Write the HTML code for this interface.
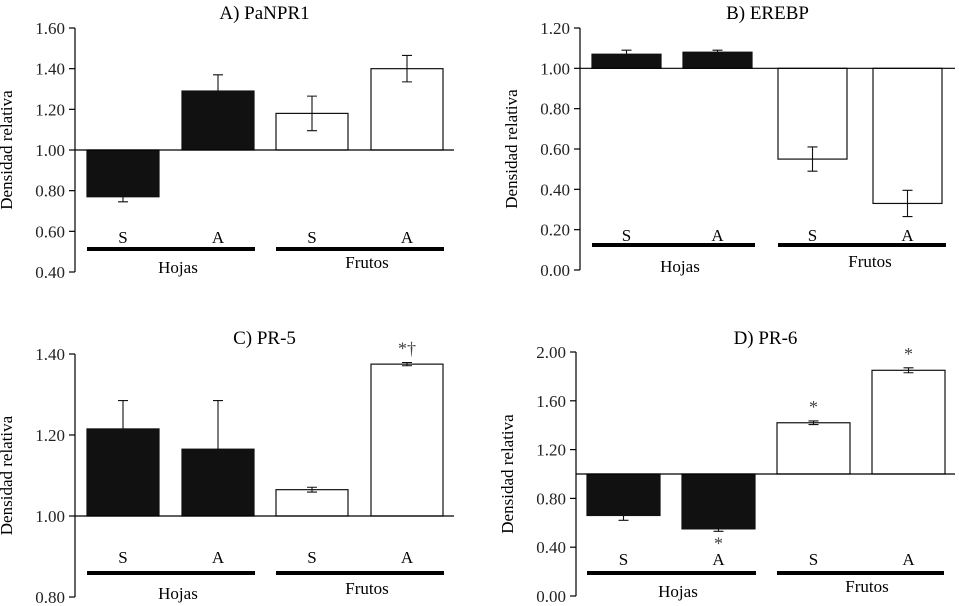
<!DOCTYPE html>
<html><head><meta charset="utf-8"><style>
body{margin:0;background:#fff}
svg{display:block;font-family:"Liberation Serif",serif}
</style></head><body>
<svg id="chart" width="959" height="606" viewBox="0 0 959 606"></svg>
<script>
const categories = ["S","A","S","A"];
const groups = ["Hojas","Frutos"];
const titles = ["A) PaNPR1","B) EREBP","C) PR-5","D) PR-6"];
const valuesA = [0.77,1.29,1.18,1.40];
const errorsA = [0.025,0.08,0.085,0.065];
const valuesB = [1.07,1.08,0.55,0.33];
const errorsB = [0.02,0.01,0.06,0.065];
const valuesC = [1.215,1.165,1.065,1.375];
const errorsC = [0.07,0.12,0.006,0.004];
const valuesD = [0.66,0.55,1.42,1.85];
const errorsD = [0.04,0.02,0.015,0.02];
const marksC = ["","","","*†"];
const marksD = ["","*","*","*"];
const ticksA = ["1.60","1.40","1.20","1.00","0.80","0.60","0.40"];
const ticksB = ["1.20","1.00","0.80","0.60","0.40","0.20","0.00"];
const ticksC = ["1.40","1.20","1.00","0.80"];
const ticksD = ["2.00","1.60","1.20","0.80","0.40","0.00"];

const NS="http://www.w3.org/2000/svg";
const svg=document.getElementById('chart');
function mk(tag,attrs,parent,text){const e=document.createElementNS(NS,tag);for(const k in attrs)e.setAttribute(k,attrs[k]);if(text!==undefined)e.textContent=text;parent.appendChild(e);return e;}

const panels=[
 {t:0,vals:valuesA,errs:errorsA,ticks:ticksA,marks:null,ax:75,top:28,bot:272,max:1.6,min:0.4,bars:[87,182,276,371],bw:72,zEnd:454,labY:243,lineY:249,hY:273,fY:268,tY:19,hX:178,fX:367,mline:[87,255,276,444]},
 {t:1,vals:valuesB,errs:errorsB,ticks:ticksB,marks:null,ax:580,top:28,bot:270,max:1.2,min:0,bars:[592,683,778,873],bw:69,zEnd:955,labY:241,lineY:245,hY:272,fY:267,tY:19,hX:680,fX:870,mline:[592,755,778,946]},
 {t:2,vals:valuesC,errs:errorsC,ticks:ticksC,marks:marksC,ax:75,top:354,bot:597,max:1.4,min:0.8,bars:[87,182,276,371],bw:72,zEnd:454,labY:563,lineY:573,hY:599,fY:594,tY:344,hX:178,fX:367,mline:[87,255,276,444]},
 {t:3,vals:valuesD,errs:errorsD,ticks:ticksD,marks:marksD,ax:576,top:352,bot:596,max:2.0,min:0,bars:[587,682,777,872],bw:73,zEnd:955,labY:565,lineY:573,hY:597,fY:592,tY:344,hX:678,fX:867,mline:[587,756,777,944]}
];
panels.forEach((p,pi)=>{
 const g=mk('g',{},svg);
 
 
 const y=v=>p.bot-(v-p.min)/(p.max-p.min)*(p.bot-p.top);
 const y1=y(1);
 const tt=mk('text',{x:(p.ax+p.zEnd)/2,y:p.tY,'text-anchor':'middle','font-size':19},g,titles[p.t]);
 
 const axl=mk('line',{x1:p.ax,y1:p.top,x2:p.ax,y2:p.bot,stroke:'#000','stroke-width':1.2},g);
 
 const n=p.ticks.length;
 p.ticks.forEach((lab,i)=>{
  const v=p.max-(p.max-p.min)*i/(n-1);
  const ty=y(v);
  mk('line',{x1:p.ax-6,y1:ty,x2:p.ax,y2:ty,stroke:'#000','stroke-width':1.2},g);
  const t=mk('text',{x:p.ax-10,y:ty+6,'text-anchor':'end','font-size':17,fill:'#222'},g,lab);
  
 });
 const yt=mk('text',{x:0,y:0,'text-anchor':'middle','font-size':17,transform:`translate(${p.ax-63},${(p.top+p.bot)/2}) rotate(-90)`},g,'Densidad relativa');
 
 p.vals.forEach((v,i)=>{
  const x=p.bars[i], yv=y(v);
  const r=mk('rect',{x:x,y:Math.min(yv,y1),width:p.bw,height:Math.abs(yv-y1),fill:i<2?'#111':'#fff',stroke:'#111','stroke-width':1.2},g);
  
  
  const cx=x+p.bw/2;
  const ya=y(v+p.errs[i]), yb=y(v-p.errs[i]);
  const down=v<1;
  const eb=mk('path',{d:`M${cx},${ya}V${yb}M${cx-5},${ya}H${cx+5}M${cx-5},${yb}H${cx+5}`,stroke:'#111','stroke-width':1.1,fill:'none'},g);
  if(i<2){ if(down) eb.setAttribute('d',`M${cx},${yv}V${yb}M${cx-5},${yb}H${cx+5}`); else eb.setAttribute('d',`M${cx},${yv}V${ya}M${cx-5},${ya}H${cx+5}`);}
  
  if(p.marks&&p.marks[i]){
   const my=down?yb+18:ya-8;
   const m=mk('text',{x:cx,y:my,'text-anchor':'middle','font-size':18,fill:'#444'},g,p.marks[i]);
   
  }
  const cl=mk('text',{x:cx,y:p.labY,'text-anchor':'middle','font-size':17},g,categories[i]);
  
 });
 const zl=mk('line',{x1:p.ax,y1:y1,x2:p.zEnd,y2:y1,stroke:'#000','stroke-width':1.2},g);
 
 [[p.mline[0],p.mline[1]],[p.mline[2],p.mline[3]]].forEach((s,k)=>{
  const l=mk('line',{x1:s[0],y1:p.lineY,x2:s[1],y2:p.lineY,stroke:'#000','stroke-width':4},g);
  
 });
 const h=mk('text',{x:p.hX,y:p.hY,'text-anchor':'middle','font-size':17},g,groups[0]);
 
 const f=mk('text',{x:p.fX,y:p.fY,'text-anchor':'middle','font-size':17},g,groups[1]);
 
});
</script>
</body></html>
